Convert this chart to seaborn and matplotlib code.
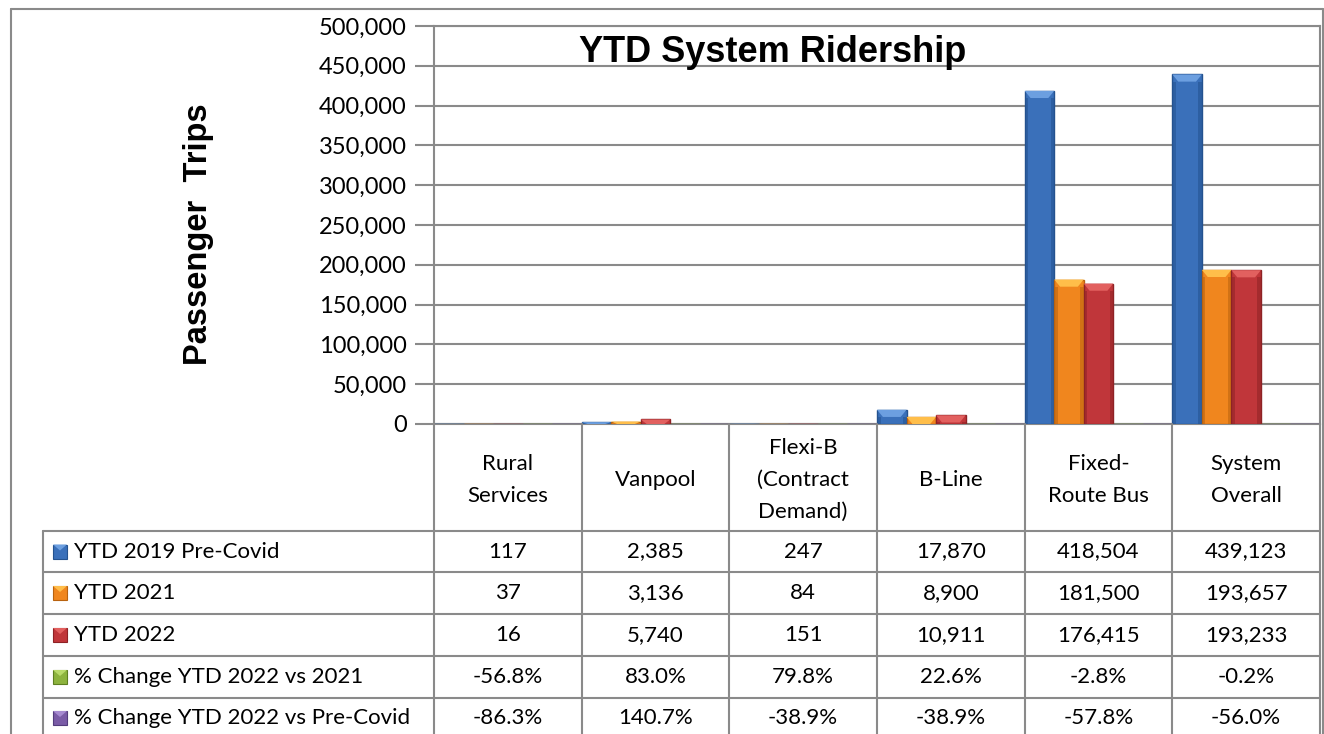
import numpy as np
import pandas as pd
import matplotlib
matplotlib.use('Agg')
import matplotlib.pyplot as plt
from matplotlib.patches import Rectangle, Polygon
from matplotlib.ticker import FuncFormatter
import seaborn as sns

categories = ["Rural\nServices", "Vanpool", "Flexi-B\n(Contract\nDemand)", "B-Line",
              "Fixed-\nRoute Bus", "System\nOverall"]
series = ["YTD 2019 Pre-Covid", "YTD 2021", "YTD 2022",
          "% Change YTD 2022 vs 2021", "% Change YTD 2022 vs Pre-Covid"]
ytd_2019 = [117, 2385, 247, 17870, 418504, 439123]
ytd_2021 = [37, 3136, 84, 8900, 181500, 193657]
ytd_2022 = [16, 5740, 151, 10911, 176415, 193233]
pct_vs_2021 = [-56.8, 83.0, 79.8, 22.6, -2.8, -0.2]
pct_vs_precovid = [-86.3, 140.7, -38.9, -38.9, -57.8, -56.0]
colors = ["#3A70BA", "#F0861E", "#C0363A", "#8DB33E", "#7A5BA6"]
edge_colors = ["#24528F", "#B8620F", "#8E2225", "#5E7F22", "#533C7C"]
cap_colors = ["#6C9FE0", "#FFBE4A", "#E2605F", "#B9DA6A", "#A68AD0"]

W, H = 1324, 734
GRID = "#8a8a8a"

# long-form frame, the % series go in as fractions like Excel does
rows = []
for i, cat in enumerate(categories):
    vals = [ytd_2019[i], ytd_2021[i], ytd_2022[i], pct_vs_2021[i] / 100, pct_vs_precovid[i] / 100]
    for s, v in zip(series, vals):
        rows.append({"category": cat, "series": s, "value": v})
df = pd.DataFrame(rows)

sns.set_theme(style="white")
plt.rcParams['font.family'] = ['Lato', 'DejaVu Sans']

fig = plt.figure(figsize=(W / 100, H / 100), dpi=100)

# plot area in pixel terms
left, right, top, zero = 434, 1320, 26, 424
ax = fig.add_axes([left / W, 1 - zero / H, (right - left) / W, (zero - top) / H])

sns.barplot(data=df, x="category", y="value", hue="series", order=categories,
            hue_order=series, palette=colors, width=1.0, gap=0, saturation=1,
            errorbar=None, legend=False, ax=ax, zorder=3)

# fake the bevelled Excel look: dark side strips and a light top cap
cap_h = 9000
for j, cont in enumerate(ax.containers):
    for p in cont.patches:
        p.set_edgecolor(edge_colors[j])
        p.set_linewidth(1.0)
        x, w, h = p.get_x(), p.get_width(), p.get_height()
        if h <= 0:
            continue
        c = min(h, cap_h)
        if h > c:
            for sx in (x, x + w * 0.88):
                ax.add_patch(Rectangle((sx, 0), w * 0.12, h - c, facecolor=edge_colors[j],
                                       edgecolor="none", alpha=0.55, zorder=4))
        ax.add_patch(Polygon([(x, h), (x + w, h), (x + w * 0.8, h - c), (x + w * 0.2, h - c)],
                             closed=True, facecolor=cap_colors[j], edgecolor="none", zorder=4))

ax.set_xlim(-0.5, len(categories) - 0.5)
ax.set_ylim(0, 500000)
ax.set_yticks(np.arange(0, 500001, 50000))
ax.yaxis.set_major_formatter(FuncFormatter(lambda v, _: f"{v:,.0f}"))
ax.set_xticks([])
ax.set_xlabel("")
ax.set_ylabel("")
ax.yaxis.grid(True, color=GRID, linewidth=1.5, zorder=0)
ax.set_axisbelow(True)
for side in ["left", "right", "bottom", "top"]:
    ax.spines[side].set_visible(True)
    ax.spines[side].set_color(GRID)
    ax.spines[side].set_linewidth(1.5)
ax.tick_params(axis='y', left=True, length=13.7, width=1.5, color=GRID, pad=6,
               labelsize=17, labelcolor="black")

# overlay in pixel coords for the data table, border and titles
tab = fig.add_axes([0, 0, 1, 1], facecolor="none")
tab.set_xlim(0, W)
tab.set_ylim(H, 0)
tab.axis("off")

lw = 1.5
# outer chart border
tab.plot([11, 11], [9, H], color=GRID, lw=lw)
tab.plot([11, 1323], [9, 9], color=GRID, lw=lw)
tab.plot([1323, 1323], [9, H], color=GRID, lw=lw)

cw = (right - left) / len(categories)
row_edges = [531, 572, 614, 656, 698, 740]
label_left = 43

# vertical lines of the table
for i in range(len(categories) + 1):
    x = left + i * cw
    tab.plot([x, x], [zero, H], color=GRID, lw=lw)
tab.plot([label_left, label_left], [row_edges[0], H], color=GRID, lw=lw)
for y in row_edges[:-1]:
    tab.plot([label_left, right], [y, y], color=GRID, lw=lw)

# header row
for i, cat in enumerate(categories):
    tab.text(left + (i + 0.5) * cw, (zero + row_edges[0]) / 2 + 2, cat, ha="center", va="center",
             fontsize=16, linespacing=1.75, color="black")

# body rows
table_vals = [
    [f"{v:,}" for v in ytd_2019],
    [f"{v:,}" for v in ytd_2021],
    [f"{v:,}" for v in ytd_2022],
    [f"{v:.1f}%" for v in pct_vs_2021],
    [f"{v:.1f}%" for v in pct_vs_precovid],
]
for r, name in enumerate(series):
    yc = (row_edges[r] + row_edges[r + 1]) / 2
    if r == len(series) - 1:
        yc = row_edges[r] + 20
    tab.add_patch(Rectangle((53, yc - 7), 14, 14, facecolor=colors[r],
                            edgecolor=edge_colors[r], lw=0.8))
    tab.add_patch(Polygon([(53, yc - 7), (67, yc - 7), (60, yc - 1)], closed=True,
                          facecolor=cap_colors[r], edgecolor="none"))
    tab.text(74, yc, name, ha="left", va="center", fontsize=16, color="black")
    for i, txt in enumerate(table_vals[r]):
        tab.text(left + (i + 0.5) * cw, yc, txt, ha="center", va="center",
                 fontsize=16, color="black")

tab.text(773, 62, "YTD System Ridership", ha="center", va="baseline", fontsize=26,
         fontweight="bold", family=["Liberation Sans", "DejaVu Sans"], color="black")
tab.text(198, 234, "Passenger  Trips", rotation=90, ha="center", va="center", fontsize=23.5,
         fontweight="bold", family=["Liberation Sans", "DejaVu Sans"], color="black")

fig.savefig("out.png", dpi=100)
